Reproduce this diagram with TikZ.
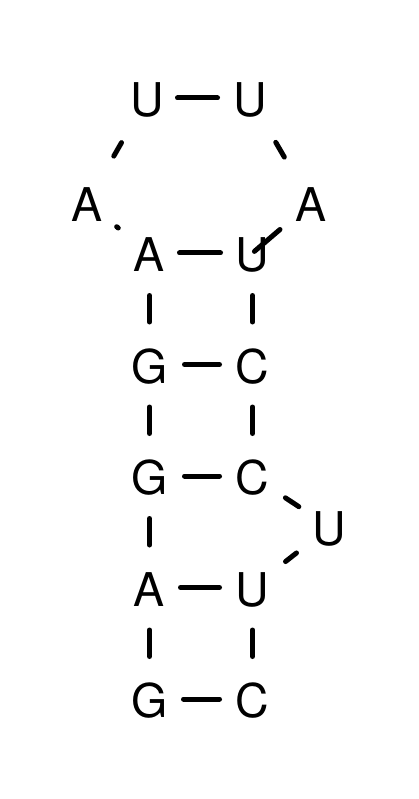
\documentclass[tikz,border=0pt]{standalone}
\usepackage{fontspec}
\setmainfont{TeX Gyre Heros}
\begin{document}
\begin{tikzpicture}[x=1pt,y=-1pt,
  base/.style={inner sep=0pt,outer sep=0pt,text height=37.4pt,text depth=0pt,
    font=\fontsize{46.5}{50}\selectfont},
  link/.style={line width=5pt,line cap=round,black}]
\useasboundingbox (0,0) rectangle (419,799);
% loop
\node[base] (u1) at (147,98) {U};
\node[base] (u2) at (250,98) {U};
\node[base] (a3) at (87,203) {A};
\node[base] (a4) at (311,203) {A};
% stem, left strand
\node[base] (l1) at (149.5,253) {A};
\node[base] (l2) at (149.5,364.5) {G};
\node[base] (l3) at (149.5,476) {G};
\node[base] (l4) at (149.5,587.5) {A};
\node[base] (l5) at (149.5,699) {G};
% stem, right strand
\node[base] (r1) at (252.5,253) {U};
\node[base] (r2) at (252.5,364.5) {C};
\node[base] (r3) at (252.5,476) {C};
\node[base] (r4) at (252.5,587.5) {U};
\node[base] (r5) at (252.5,699) {C};
% bulge
\node[base] (ub) at (329.5,527) {U};
% backbone
\draw[link,shorten <=30.5pt,shorten >=32.5pt] (u1.center) -- (u2.center);
\draw[link,shorten <=51.4pt,shorten >=54pt] (u1.center) -- (a3.center);
\draw[link,shorten <=51.3pt,shorten >=53.1pt] (u2.center) -- (a4.center);
\draw[link,shorten <=38pt,shorten >=40pt] (a3.center) -- (l1.center);
\draw[link,shorten <=40.8pt,shorten >=2.5pt] (a4.center) -- (r1.center);
\draw[link,shorten <=42.5pt,shorten >=42.5pt] (l1.center) -- (l2.center);
\draw[link,shorten <=42.5pt,shorten >=42.5pt] (l2.center) -- (l3.center);
\draw[link,shorten <=42.5pt,shorten >=42.5pt] (l3.center) -- (l4.center);
\draw[link,shorten <=42.5pt,shorten >=42.5pt] (l4.center) -- (l5.center);
\draw[link,shorten <=42.5pt,shorten >=42.5pt] (r1.center) -- (r2.center);
\draw[link,shorten <=42.5pt,shorten >=42.5pt] (r2.center) -- (r3.center);
\draw[link,shorten <=39.5pt,shorten >=36.8pt] (r3.center) -- (ub.center);
\draw[link,shorten <=42pt,shorten >=42pt] (ub.center) -- (r4.center);
\draw[link,shorten <=42.5pt,shorten >=42.5pt] (r4.center) -- (r5.center);
% base pairs
\draw[link,shorten <=30pt,shorten >=32pt] (l1.center) -- (r1.center);
\draw[link,shorten <=35pt,shorten >=33pt] (l2.center) -- (r2.center);
\draw[link,shorten <=35pt,shorten >=33pt] (l3.center) -- (r3.center);
\draw[link,shorten <=31pt,shorten >=33pt] (l4.center) -- (r4.center);
\draw[link,shorten <=34pt,shorten >=33pt] (l5.center) -- (r5.center);
\end{tikzpicture}
\end{document}
